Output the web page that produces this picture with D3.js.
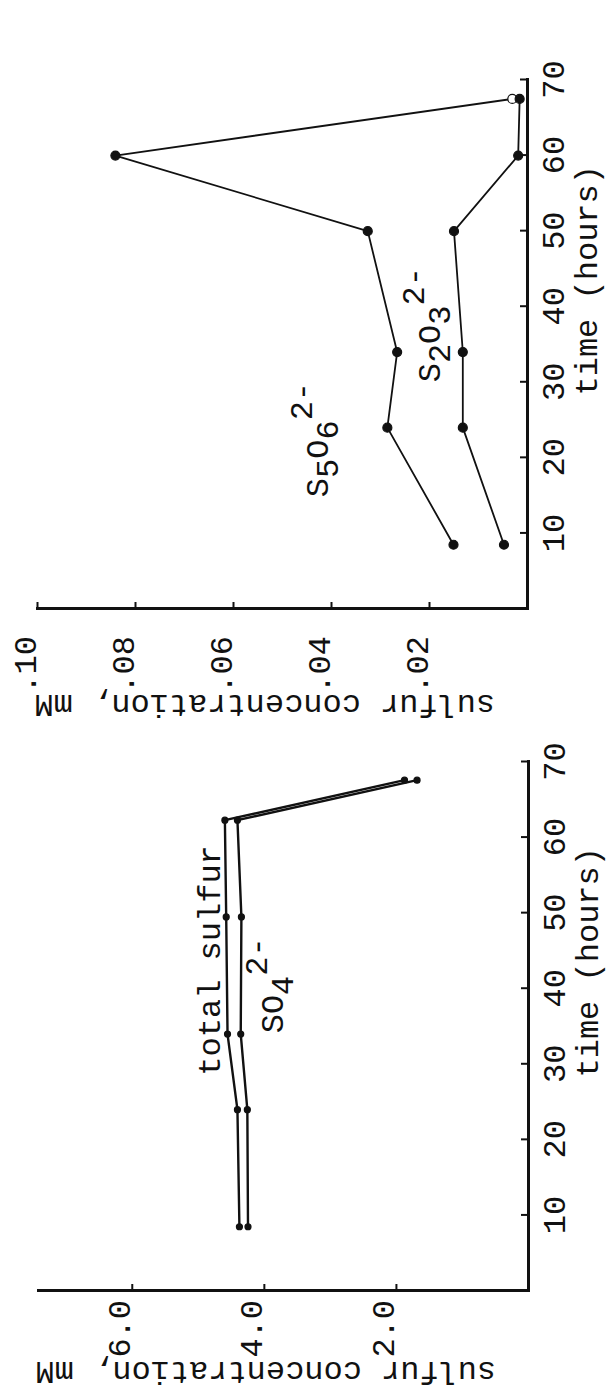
<!DOCTYPE html>
<html>
<head>
<meta charset="utf-8">
<script src="https://cdnjs.cloudflare.com/ajax/libs/d3/7.8.5/d3.min.js"></script>
<style>
body { margin: 0; background: #fff; }
svg text { font-family: "Liberation Mono", "DejaVu Sans Mono", monospace; fill: #111; }
.axis path, .axis line { stroke: #111; }
</style>
</head>
<body>
<div id="chartContent"></div>
<script>
// hours
var timesTop = [8.5, 24, 34, 50, 60, 67.5];
var pentathionate = [0.015, 0.0285, 0.0265, 0.0325, 0.084, 0.003];
var thiosulfate = [0.0047, 0.0131, 0.0131, 0.0149, 0.0018, 0.0015];

var timesBottom = [8.5, 24, 34, 49.5, 62.3, 67.6];
var totalSulfur = [4.37, 4.40, 4.55, 4.57, 4.59, 1.87];
var sulfate = [4.24, 4.25, 4.35, 4.34, 4.40, 1.68];

var timeTicks = [10, 20, 30, 40, 50, 60, 70];
var topConcTicks = [0.02, 0.04, 0.06, 0.08, 0.10];
var topConcLabels = [".02", ".04", ".06", ".08", ".10"];
var bottomConcTicks = [2, 4, 6];
var bottomConcLabels = ["2.0", "4.0", "6.0"];

var fontSize = 32;
var W = 529, H = 490;   // time axis length, concentration axis length

var svg = d3.select("#chartContent")
	.append("svg")
	.attr("width", 609)
	.attr("height", 1395);

function pairs(times, values) {
	return times.map(function(t, i) { return {t: t, c: values[i]}; });
}

// draws a normal chart, then turns it a quarter turn to the left like the scanned page
function drawPanel(opts) {
	var g = svg.append("g")
		.attr("transform", "translate(" + (opts.originX - H) + "," + opts.originY + ") rotate(-90)");

	var x = d3.scaleLinear().domain([0, 70]).range([0, W]);
	var y = d3.scaleLinear().domain([0, opts.cMax]).range([H, 0]);

	g.append("g")
		.attr("class", "axis")
		.attr("transform", "translate(0," + H + ")")
		.call(d3.axisBottom(x).tickValues(timeTicks).tickFormat(d3.format("d"))
			.tickSizeInner(-7).tickSizeOuter(0).tickPadding(14));

	var yAxis = g.append("g")
		.attr("class", "axis")
		.call(d3.axisLeft(y).tickValues(opts.concTicks)
			.tickFormat(function(d, i) { return opts.concLabels[i]; })
			.tickSizeInner(-7).tickSizeOuter(0).tickPadding(opts.labelPad));

	g.selectAll(".axis .domain").attr("stroke-width", 3).attr("stroke-linecap", "square");
	g.selectAll(".axis .tick line").attr("stroke-width", 2);
	g.selectAll(".axis text").attr("font-size", fontSize).attr("font-family", null);
	yAxis.selectAll("text").attr("dy", "-2");

	// axis titles
	g.append("text")
		.attr("x", x(43.5))
		.attr("y", H + 70)
		.attr("text-anchor", "middle")
		.attr("font-size", fontSize)
		.text("time (hours)");

	g.append("text")
		.attr("transform", "translate(" + (-opts.titlePad) + "," + y(opts.cMax * 0.535) + ") rotate(-90)")
		.attr("text-anchor", "middle")
		.attr("font-size", fontSize)
		.text("sulfur concentration, mM");

	return {g: g, x: x, y: y, lineWidth: opts.lineWidth, dotR: opts.dotR};
}

function drawSeries(p, data, openLast) {
	var line = d3.line().x(function(d) { return p.x(d.t); }).y(function(d) { return p.y(d.c); });
	p.g.append("path")
		.datum(data)
		.attr("fill", "none")
		.attr("stroke", "#111")
		.attr("stroke-width", p.lineWidth)
		.attr("stroke-linejoin", "round")
		.attr("d", line);
	p.g.selectAll(null)
		.data(data)
		.enter()
		.append("circle")
		.attr("cx", function(d) { return p.x(d.t); })
		.attr("cy", function(d) { return p.y(d.c); })
		.attr("r", p.dotR)
		.attr("fill", function(d, i) { return (openLast && i == data.length - 1) ? "#fff" : "#111"; })
		.attr("stroke", "#111")
		.attr("stroke-width", 1.2);
}

// formula like S5O6 2-: parts are [text, baseline shift]
function drawFormula(p, t, c, parts) {
	var txt = p.g.append("text")
		.attr("x", p.x(t))
		.attr("y", p.y(c))
		.attr("font-size", fontSize);
	var shift = 0;
	parts.forEach(function(part) {
		txt.append("tspan").attr("dy", part[1] - shift).text(part[0]);
		shift = part[1];
	});
}

var topPanel = drawPanel({originX: 527, originY: 609, cMax: 0.10,
	concTicks: topConcTicks, concLabels: topConcLabels,
	labelPad: 27, titlePad: 86, lineWidth: 1.8, dotR: 4.5});
drawSeries(topPanel, pairs(timesTop, pentathionate), true);
drawSeries(topPanel, pairs(timesTop, thiosulfate), false);
drawFormula(topPanel, 14.8, 0.0406, [["S", 0], ["5", 10], ["O", 0], ["6", 10], ["2-", -16]]);
drawFormula(topPanel, 30, 0.0178, [["S", 0], ["2", 10], ["O", 0], ["3", 10], ["2-", -16]]);

var bottomPanel = drawPanel({originX: 528, originY: 1291, cMax: 7.42,
	concTicks: bottomConcTicks, concLabels: bottomConcLabels,
	labelPad: 9, titlePad: 71, lineWidth: 2.4, dotR: 3});
drawSeries(bottomPanel, pairs(timesBottom, totalSulfur), false);
drawSeries(bottomPanel, pairs(timesBottom, sulfate), false);
bottomPanel.g.append("text")
	.attr("x", bottomPanel.x(28.5))
	.attr("y", bottomPanel.y(4.67))
	.attr("font-size", fontSize)
	.text("total sulfur");
drawFormula(bottomPanel, 34.1, 3.71, [["S", 0], ["O", 0], ["4", 10], ["2-", -16]]);
</script>
</body>
</html>
